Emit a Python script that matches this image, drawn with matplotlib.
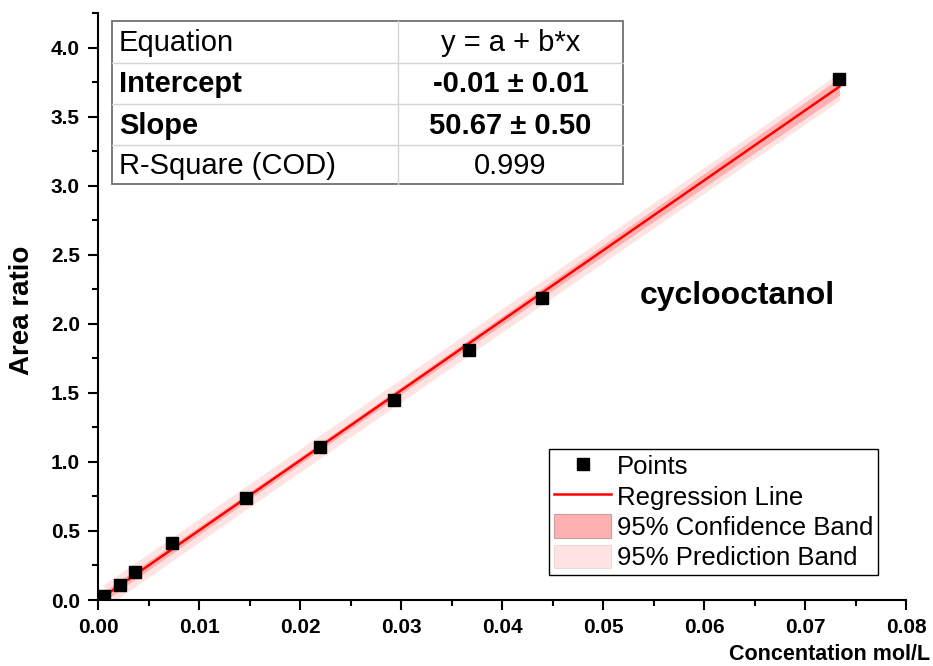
import numpy as np
import matplotlib
matplotlib.use("Agg")
import matplotlib.pyplot as plt
from matplotlib.lines import Line2D
from matplotlib.patches import Rectangle, Patch

plt.rcParams['font.family'] = ['Liberation Sans', 'DejaVu Sans']

# ---- data ----
conc = [0.0006, 0.0022, 0.0037, 0.0073, 0.0147, 0.0220, 0.0293, 0.0367, 0.0440, 0.0734]
area = [0.03, 0.11, 0.20, 0.41, 0.74, 1.11, 1.45, 1.81, 2.19, 3.77]

table_labels = ["Equation", "Intercept", "Slope", "R-Square (COD)"]
table_values = ["y = a + b*x", "-0.01 \u00b1 0.01", "50.67 \u00b1 0.50", "0.999"]
table_bold = [False, True, True, False]

legend_labels = ["Points", "Regression Line", "95% Confidence Band", "95% Prediction Band"]
compound = "cyclooctanol"
xlabel = "Concentation mol/L"
ylabel = "Area ratio"

# ---- regression from data ----
x = np.array(conc)
y = np.array(area)
n = len(x)
b, a = np.polyfit(x, y, 1)
res = y - (a + b * x)
s = np.sqrt(np.sum(res ** 2) / (n - 2))
t = 2.306  # t(0.975, 8)
xx = np.linspace(x.min(), x.max(), 200)
yy = a + b * xx
sxx = np.sum((x - x.mean()) ** 2)
se_conf = s * np.sqrt(1 / n + (xx - x.mean()) ** 2 / sxx)
se_pred = s * np.sqrt(1 + 1 / n + (xx - x.mean()) ** 2 / sxx)

W, H = 933, 666
fig = plt.figure(figsize=(W / 100, H / 100), dpi=100)
ax = fig.add_axes([98 / W, 1 - 600 / H, 808 / W, 587 / H])

pred_col = '#ffe3e3'
conf_col = '#ffb0b0'
ax.fill_between(xx, yy - t * se_pred, yy + t * se_pred, color=pred_col, lw=0, zorder=1)
ax.fill_between(xx, yy - t * se_conf, yy + t * se_conf, color=conf_col, lw=0, zorder=2)
ax.plot(xx, yy, color='#ff0000', lw=1.8, zorder=3)
ax.plot(x, y, 's', color='black', markersize=8, zorder=4)

ax.set_xlim(0, 0.08)
ax.set_ylim(0, 4.25)
ax.set_xticks(np.arange(0, 0.0801, 0.01))
ax.set_xticks(np.arange(0, 0.0801, 0.005), minor=True)
ax.set_yticks(np.arange(0, 4.01, 0.5))
ax.set_yticks(np.arange(0, 4.251, 0.25), minor=True)
ax.set_xticklabels([f"{v:.2f}" for v in np.arange(0, 0.0801, 0.01)])
ax.set_yticklabels([f"{v:.1f}" for v in np.arange(0, 4.01, 0.5)])
for lab in ax.get_xticklabels() + ax.get_yticklabels():
    lab.set_fontweight('bold')
    lab.set_fontsize(15)
ax.tick_params(which='major', direction='out', length=7, width=1.5, pad=6)
ax.tick_params(which='minor', direction='out', length=4, width=1.5)
ax.spines['top'].set_visible(False)
ax.spines['right'].set_visible(False)
ax.spines['left'].set_linewidth(1.5)
ax.spines['bottom'].set_linewidth(1.5)

fig.text(22 / W, 1 - 310 / H, ylabel, rotation=90, fontsize=20, fontweight='bold',
         ha='center', va='center')
fig.text(930 / W, 1 - 655 / H, xlabel, fontsize=15.5, fontweight='bold',
         ha='right', va='center')
fig.text(737 / W, 1 - 296 / H, compound, fontsize=23, fontweight='bold',
         ha='center', va='center')

# ---- table ----
def fx(px):
    return px / W

def fy(py):
    return 1 - py / H

tl, tr, tt, tb, tmid = 112, 623, 21, 184, 398
rows = [21, 63, 104, 145, 184]
fig.add_artist(Rectangle((fx(tl), fy(tb)), fx(tr) - fx(tl), fy(tt) - fy(tb),
                         transform=fig.transFigure, facecolor='white', edgecolor='#707070', lw=1.3, zorder=5))
for r in rows[1:-1]:
    fig.add_artist(Line2D([fx(tl), fx(tr)], [fy(r), fy(r)], transform=fig.transFigure,
                          color='#d4d4d4', lw=1.0, zorder=6))
fig.add_artist(Line2D([fx(tmid), fx(tmid)], [fy(tt), fy(tb)], transform=fig.transFigure,
                      color='#d4d4d4', lw=1.0, zorder=6))
for i in range(4):
    cy = (rows[i] + rows[i + 1]) / 2 + 1
    wt = 'bold' if table_bold[i] else 'normal'
    fig.text(fx(119), fy(cy), table_labels[i], fontsize=21, fontweight=wt, ha='left', va='center', zorder=7)
    fig.text(fx((tmid + tr) / 2), fy(cy), table_values[i], fontsize=21, fontweight=wt, ha='center', va='center', zorder=7)

# ---- legend ----
handles = [Line2D([], [], marker='s', color='black', ls='none', markersize=8),
           Line2D([], [], color='#ff0000', lw=1.8),
           Patch(facecolor=conf_col, edgecolor='#c8a0a0', lw=0.8),
           Patch(facecolor=pred_col, edgecolor='#f0d8d8', lw=0.8)]
leg = ax.legend(handles, legend_labels, loc='upper left',
                bbox_to_anchor=(fx(549), fy(449)), bbox_transform=fig.transFigure,
                fontsize=18.5, frameon=True, fancybox=False, framealpha=1,
                edgecolor='black', handlelength=2.25, handleheight=1.05,
                handletextpad=0.22, labelspacing=0.18, borderpad=0.18, borderaxespad=0)
leg.get_frame().set_linewidth(1.0)

fig.savefig('out.png', dpi=100)
